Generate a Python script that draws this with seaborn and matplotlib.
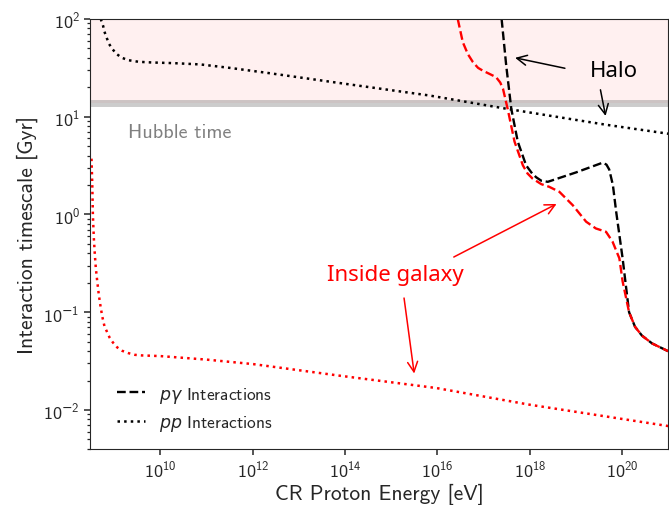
import numpy as np
import matplotlib
matplotlib.use("Agg")
import matplotlib.pyplot as plt
from matplotlib import ticker
import seaborn as sns

sns.set_style("ticks")
plt.rcParams["font.family"] = ["cmss10", "DejaVu Sans"]
plt.rcParams["mathtext.fontset"] = "custom"
plt.rcParams["mathtext.rm"] = "cmss10"
plt.rcParams["mathtext.it"] = "DejaVu Sans:italic"
plt.rcParams["mathtext.sf"] = "DejaVu Sans"
plt.rcParams["axes.unicode_minus"] = True
plt.rcParams["axes.formatter.use_mathtext"] = True

# values, log10(E / eV) and log10(t / Gyr)
pg_halo_logE = [17.39, 17.49, 17.60, 17.74, 17.92, 18.05, 18.14, 18.25, 18.39,
                19.0, 19.58, 19.66, 19.72, 19.80, 19.87, 20.01, 20.15, 20.28,
                20.43, 20.65, 20.87, 21.0]
pg_halo_logt = [2.0, 1.523, 1.08, 0.745, 0.503, 0.42, 0.38, 0.345, 0.334,
                0.43, 0.53, 0.51, 0.46, 0.30, 0.03, -0.449, -1.0, -1.15,
                -1.24, -1.32, -1.37, -1.40]

pg_gal_logE = [16.44, 16.55, 16.66, 16.77, 16.88, 16.98, 17.12, 17.27, 17.36,
               17.42, 17.52, 17.67, 17.85, 17.95, 18.06, 18.25, 18.42, 18.64,
               18.93, 19.22, 19.43, 19.65, 19.79, 19.94, 20.01, 20.15, 20.28,
               20.43, 20.65, 20.87, 21.0]
pg_gal_logt = [2.0, 1.762, 1.64, 1.558, 1.50, 1.472, 1.44, 1.405, 1.35,
               1.286, 1.082, 0.745, 0.503, 0.42, 0.367, 0.31, 0.283, 0.232,
               0.095, -0.074, -0.143, -0.177, -0.276, -0.449, -0.684, -1.0,
               -1.15, -1.24, -1.32, -1.37, -1.40]

pp_halo_logE = [8.71, 8.76, 8.79, 8.84, 8.89, 8.96, 9.05, 9.16, 9.30, 9.53,
                9.82, 10.3, 10.87, 11.5, 12.31, 13.74, 15.83, 17.49, 19.65, 21.0]
pp_halo_logt = [2.0, 1.932, 1.871, 1.806, 1.745, 1.694, 1.643, 1.605, 1.579,
                1.562, 1.555, 1.548, 1.535, 1.50, 1.449, 1.354, 1.217, 1.082,
                0.918, 0.826]

pp_gal_logE = [8.51, 8.527, 8.54, 8.561, 8.583, 8.604, 8.635, 8.669, 8.706,
               8.743, 8.792, 8.842, 8.90, 8.972, 9.067, 9.175, 9.304, 9.447,
               9.591, 10.0, 11.0, 12.01, 13.89, 15.98, 17.99, 21.0]
pp_gal_logt = [0.571, 0.299, -0.007, -0.245, -0.415, -0.551, -0.687, -0.823,
               -0.942, -1.044, -1.146, -1.197, -1.258, -1.309, -1.36, -1.395,
               -1.418, -1.436, -1.442, -1.449, -1.485, -1.531, -1.65, -1.776,
               -1.946, -2.165]

hubble_time = 13.8
x_ticks = [1e10, 1e12, 1e14, 1e16, 1e18, 1e20]
y_ticks = [1e-2, 1e-1, 1e0, 1e1, 1e2]
y_minor = [m * d for d in [1e-3, 1e-2, 1e-1, 1e0, 1e1] for m in range(2, 10)]


def pow_label(v, pos):
    e = int(round(np.log10(v)))
    if e < 0:
        return r"$10^{\mathsf{-}%d}$" % (-e)
    return r"$10^{%d}$" % e


fig = plt.figure(figsize=(6.69, 5.06), dpi=100)
ax = fig.add_axes([0.1345, 0.111, 0.8645, 0.8495])
ax.set_xscale("log")
ax.set_yscale("log")

ax.axhspan(hubble_time, 100, color="red", alpha=0.06, lw=0)
ax.axhline(hubble_time, color="gray", alpha=0.4, lw=5)

curves = [
    (pg_halo_logE, pg_halo_logt, "black", "--"),
    (pg_gal_logE, pg_gal_logt, "red", "--"),
    (pp_halo_logE, pp_halo_logt, "black", ":"),
    (pp_gal_logE, pp_gal_logt, "red", ":"),
]
for le, lt, col, ls in curves:
    sns.lineplot(x=np.power(10.0, le), y=np.power(10.0, lt), ax=ax, color=col,
                 linestyle=ls, lw=1.8 if ls == ":" else 1.7, sort=False,
                 estimator=None)

ax.set_xticks(x_ticks)
ax.set_xticks([], minor=True)
ax.set_yticks(y_ticks)
ax.set_yticks(y_minor, minor=True)
ax.set_xlim(3e8, 1e21)
ax.set_ylim(4e-3, 100)
ax.xaxis.set_major_formatter(ticker.FuncFormatter(pow_label))
ax.yaxis.set_major_formatter(ticker.FuncFormatter(pow_label))
ax.yaxis.set_minor_formatter(ticker.NullFormatter())
ax.tick_params(axis="both", which="major", direction="out", length=4, width=1.1,
               color="0.15", labelsize=13, bottom=True, left=True)
ax.tick_params(axis="y", which="minor", direction="out", length=2.5, width=0.9,
               color="0.15", left=True)
ax.set_xlabel("CR Proton Energy [eV]", fontsize=15.5, labelpad=2)
ax.set_ylabel("Interaction timescale [Gyr]", fontsize=15.5)
for s in ax.spines.values():
    s.set_visible(True)
    s.set_color("0.15")

ax.text(2.0e9, 7.0, "Hubble time", color="gray", fontsize=14.5, va="center", ha="left")

# annotations
afont = dict(family=["Noto Sans", "DejaVu Sans"], fontsize=16)
ax.text(6.5e19, 29.4, "Halo", color="black", ha="center", va="center", **afont)
ax.annotate("", xy=(4.2e17, 40.6), xytext=(6.6e18, 30.9),
            arrowprops=dict(arrowstyle="->", color="black", lw=1.1, mutation_scale=18))
ax.annotate("", xy=(4.5e19, 9.55), xytext=(3.3e19, 20.1),
            arrowprops=dict(arrowstyle="->", color="black", lw=1.1, mutation_scale=18))
ax.text(1.26e15, 0.244, "Inside galaxy", color="red", ha="center", va="center", **afont)
ax.annotate("", xy=(4.3e18, 1.32), xytext=(2.0e16, 0.356),
            arrowprops=dict(arrowstyle="->", color="red", lw=1.1, mutation_scale=18))
ax.annotate("", xy=(3.2e15, 0.0221), xytext=(1.86e15, 0.149),
            arrowprops=dict(arrowstyle="->", color="red", lw=1.1, mutation_scale=18))

h1, = ax.plot([], [], color="black", ls="--", lw=1.7)
h2, = ax.plot([], [], color="black", ls=":", lw=1.8)
ax.legend([h1, h2], [r"$p\gamma$ Interactions", r"$pp$ Interactions"],
          loc="lower left", frameon=False, fontsize=12.5, handlelength=1.6,
          bbox_to_anchor=(0.02, 0.0))

fig.savefig("out.png", dpi=100)
